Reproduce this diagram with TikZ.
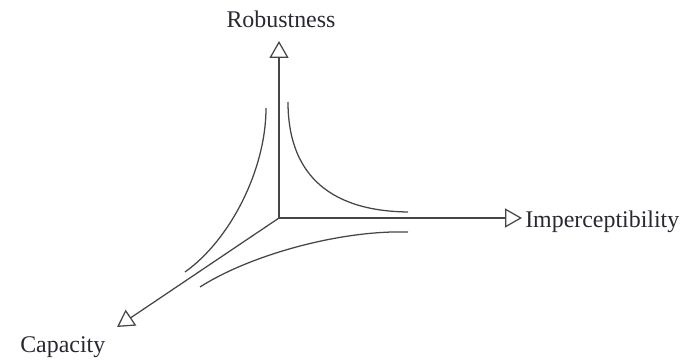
\documentclass[tikz,border=0pt]{standalone}
\usepackage{fontspec}
\setmainfont{Liberation Serif}
\usepackage{tikz}
\usetikzlibrary{positioning,arrows.meta}
\definecolor{axisgray}{RGB}{70,70,70}
\definecolor{labelink}{RGB}{40,40,50}

\begin{document}
\begin{tikzpicture}[x=0.025cm, y=-0.025cm, >={Triangle[open, length=12pt, width=13.5pt]}]
        \useasboundingbox (0,0) rectangle (697,360);
        \tikzset{axis/.style={->, line width=0.9pt, draw=axisgray},
                 tradeoff/.style={line width=0.9pt, draw=axisgray},
                 axislabel/.style={inner sep=0pt, text=labelink, font=\fontsize{17}{20}\selectfont}}

        % origin and axis tips
        \coordinate (o) at (279,218);
        \coordinate (robtip) at (279,41);
        \coordinate (imptip) at (522,218);
        \coordinate (captip) at (117,327);

        \node[axislabel, anchor=base] (rob) at (281,28) {Robustness};
        \node[axislabel, anchor=base west] (imp) at (525,227) {Imperceptibility};
        \node[axislabel, anchor=base west] (cap) at (20,352) {Capacity};

        \draw[axis] (o) -- (robtip);
        \draw[axis] (o) -- (imptip);
        \draw[axis] (o) -- (captip);

        % trade-off curves
        \draw[tradeoff] (288,102) .. controls (288,170) and (325,211) .. (408,212);
        \draw[tradeoff] (266,108) .. controls (266,170) and (230,240) .. (185,272);
        \draw[tradeoff] (408,232) .. controls (340,230) and (250,255) .. (200,287);
    \end{tikzpicture}
\end{document}
